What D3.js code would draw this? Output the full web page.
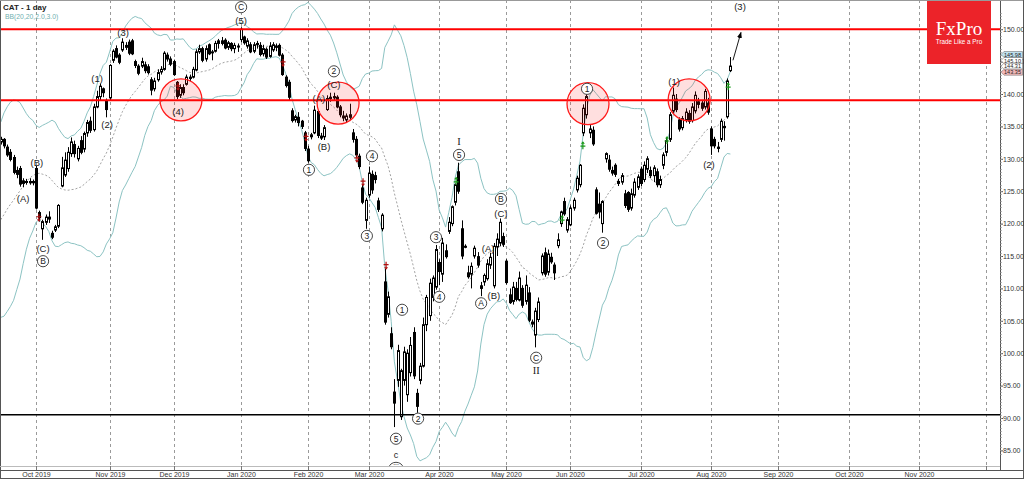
<!DOCTYPE html>
<html><head><meta charset="utf-8">
<script src="https://cdn.jsdelivr.net/npm/d3@7"></script>
<style>body{margin:0;background:#fff;overflow:hidden}svg{display:block}</style>
</head><body>
<svg id="c" width="1024" height="479"></svg>
<script>
// ---------- DATA ----------
// closes before the first visible bar (needed for BB(20))
const preClose = [116,114,115,115,112,113,111,113,116,119,117,119,123,124,126,129,131,133,133];
const open = [132.6,133.0,131.8,131.0,130.2,128.2,128.5,126.2,126.4,126.5,126.3,128.5,121.7,119.2,120.2,121.0,118.5,119.0,119.6,125.8,
127.5,128.5,130.8,132.2,130.0,132.8,131.5,134.0,135.8,134.5,138.0,139.6,140.8,139.0,139.4,145.2,147.0,146.0,146.8,147.2,
148.0,148.2,145.0,144.3,144.3,144.5,144.2,142.2,140.8,142.2,143.4,143.8,146.0,145.4,145.0,141.8,139.8,141.0,141.5,142.6,
142.6,143.7,146.5,147.0,145.4,147.6,146.4,146.6,147.8,148.2,148.3,147.2,147.8,147.0,147.4,148.4,148.8,147.4,147.6,146.6,
147.6,147.5,146.2,146.9,145.8,146.8,147.4,147.5,146.0,142.6,141.8,137.4,136.0,136.4,135.8,134.0,131.5,133.4,134.0,137.3,
133.5,133.4,137.6,139.3,139.6,139.5,138.0,136.6,136.0,136.4,134.0,133.0,130.4,125.5,120.5,124.4,127.6,127.4,123.5,119.2,
111.0,106.0,103.0,94.0,95.8,90.2,95.8,93.6,97.0,103.2,93.8,95.8,98.0,104.4,105.8,108.6,110.2,114.0,112.2,115.8,
118.8,120.0,123.3,128.0,119.2,116.5,112.4,112.2,115.0,114.9,110.4,111.0,111.5,113.6,110.4,116.4,117.0,118.0,114.2,109.0,
108.0,110.0,108.2,110.0,108.0,109.3,104.8,102.8,105.2,112.4,115.5,112.5,114.8,113.6,116.6,120.0,123.4,119.0,119.8,122.4,
125.2,126.0,134.0,136.8,134.0,134.4,125.2,123.0,120.0,130.0,129.8,128.2,129.0,126.5,126.4,124.6,124.8,122.4,124.4,125.6,
128.4,126.8,128.4,128.2,127.4,128.0,126.0,129.0,131.0,133.0,137.4,139.2,136.0,134.8,136.0,137.0,135.9,137.4,138.8,138.6,
138.0,138.6,134.6,133.0,131.8,133.0,135.0,136.5,143.6];
const high = [133.4,133.2,132.2,131.5,130.6,128.8,128.9,127.0,126.9,127.0,126.8,128.9,122.0,120.6,121.4,121.9,118.9,119.8,123.0,130.3,
131.0,131.8,133.3,132.8,132.0,133.5,134.2,136.0,136.5,138.5,140.5,141.6,141.0,139.3,144.6,146.9,147.5,146.3,148.6,148.0,
148.4,148.5,145.3,144.6,145.6,145.0,144.6,142.6,142.5,143.8,144.3,146.6,146.4,145.8,145.3,142.0,141.5,141.5,143.0,143.0,
144.2,146.9,147.6,147.3,147.5,147.8,146.8,148.2,148.5,148.8,148.6,148.2,148.0,147.9,147.8,150.3,149.0,148.6,148.0,148.0,
148.2,148.0,147.6,147.2,148.0,148.0,147.8,147.8,146.3,142.9,142.2,137.8,136.8,137.2,136.0,134.3,132.0,134.0,138.2,137.5,
134.0,135.2,139.8,140.2,140.2,139.8,138.3,137.4,137.0,138.5,134.6,133.5,130.8,126.0,124.0,128.8,128.2,128.0,124.0,121.6,
113.0,109.5,104.0,96.0,101.3,97.6,101.0,100.6,102.5,104.0,94.5,98.5,105.5,109.0,111.5,112.0,116.7,114.5,117.8,116.8,
121.0,122.8,126.2,129.4,120.5,116.8,113.5,114.0,116.6,115.6,111.0,112.3,114.5,115.5,117.0,118.5,120.8,118.6,114.5,110.0,
111.0,111.0,112.6,110.5,112.0,110.2,105.2,107.0,108.6,115.4,116.3,116.0,115.5,114.0,118.5,122.0,124.0,121.0,122.8,124.0,
127.4,129.2,138.4,140.2,135.2,135.0,125.6,124.8,123.6,131.0,130.6,128.8,129.3,126.9,127.8,125.2,125.0,125.4,127.0,127.6,
128.8,129.6,130.4,128.8,129.0,128.5,127.4,131.0,133.2,137.2,141.0,140.0,136.4,136.6,137.8,137.5,138.6,140.4,139.4,139.0,
140.8,139.4,135.0,133.4,132.6,136.2,135.8,142.4,145.7];
const low = [132.2,131.6,130.3,129.6,127.6,127.0,125.7,125.6,126.0,126.0,125.9,122.2,120.3,117.5,119.8,120.1,117.6,118.7,119.3,125.6,
127.2,128.0,130.3,130.2,129.6,130.7,131.0,133.4,134.0,134.2,137.8,139.0,139.5,136.4,139.0,144.8,145.5,144.6,146.5,146.8,
146.0,146.0,144.0,142.9,144.0,143.2,143.0,139.8,140.4,141.9,143.0,143.6,145.0,144.3,142.8,139.2,139.4,139.8,141.3,142.0,
142.4,143.5,146.2,144.9,145.0,146.0,145.2,146.4,147.0,147.5,146.9,146.8,146.6,146.3,146.5,148.0,147.6,147.0,146.3,146.3,
147.0,145.8,145.8,145.4,145.6,146.5,146.6,145.8,142.8,141.0,139.0,135.6,135.6,135.0,134.6,131.2,129.4,133.0,133.8,133.2,
132.9,132.9,137.4,138.8,139.0,137.8,136.4,135.8,135.6,136.0,132.5,130.2,128.4,123.0,119.2,124.0,124.6,126.2,121.8,118.8,
104.4,105.5,100.6,88.6,94.8,89.7,95.0,92.5,96.4,96.0,90.8,95.2,97.8,103.4,105.0,108.0,109.8,110.5,111.0,114.6,
118.4,119.6,122.8,124.6,114.5,116.2,111.5,110.0,114.6,113.2,108.8,110.4,111.2,113.0,110.0,115.0,116.5,116.4,110.6,107.6,
107.5,108.0,108.0,107.0,107.5,104.8,104.0,100.9,104.8,112.0,111.8,112.0,113.8,111.3,116.2,119.5,121.2,118.6,119.6,122.0,
124.8,125.6,133.5,136.2,133.2,132.0,121.4,120.8,118.6,129.4,128.0,127.4,127.2,125.8,126.0,122.4,121.8,122.0,124.0,125.2,
125.8,126.4,127.8,127.0,126.4,125.6,125.5,128.4,130.4,132.6,137.0,137.2,134.2,134.4,135.6,135.4,135.6,137.0,137.8,137.4,
137.6,136.8,130.6,131.6,131.0,132.6,132.8,136.2,143.4];
const close = [133.0,132.0,130.6,129.9,127.9,127.6,126.1,126.6,126.5,126.3,126.5,122.4,120.9,120.3,121.0,120.7,117.9,119.5,122.8,128.6,
129.8,131.0,132.6,130.8,131.6,131.0,133.9,135.6,134.4,138.0,139.6,141.2,140.2,137.6,144.4,146.6,145.7,144.9,148.0,147.5,
146.3,146.2,144.4,143.2,145.0,143.6,143.3,140.6,142.0,143.3,143.8,146.3,145.4,144.6,143.0,139.6,141.0,140.2,142.6,142.4,
143.8,146.5,147.0,145.2,147.0,146.2,146.5,147.8,148.2,147.8,147.1,147.9,147.0,147.5,147.3,150.0,147.9,148.2,146.5,147.6,
147.8,146.1,147.0,145.7,147.4,147.6,147.2,146.0,143.0,141.3,139.5,135.9,136.5,135.6,135.0,131.6,129.7,133.7,137.5,133.6,
133.2,134.8,139.3,139.5,139.4,138.0,136.8,136.3,136.6,136.8,133.0,130.6,128.8,123.3,123.6,127.8,125.2,126.8,122.2,121.3,
104.8,108.7,101.0,92.3,100.4,97.3,100.2,100.0,101.2,96.5,91.8,98.0,104.4,108.6,110.8,111.6,116.0,112.6,117.0,114.9,
120.2,122.6,126.0,125.0,115.0,116.4,111.8,113.4,116.2,113.6,110.0,112.0,113.8,114.8,116.5,117.6,120.2,116.8,110.9,107.8,
110.2,108.3,111.6,107.4,110.5,105.1,104.5,106.5,107.9,115.0,112.2,115.3,114.1,112.4,117.5,121.8,121.5,120.6,122.4,123.6,
127.0,129.0,137.8,139.6,134.6,132.3,121.6,121.8,123.4,130.8,128.4,127.8,127.6,126.2,127.4,122.8,122.2,124.6,126.4,127.2,
126.2,129.0,130.0,127.4,128.6,126.0,126.8,130.6,132.8,136.8,139.8,137.6,134.6,136.2,137.2,135.8,138.0,139.8,138.4,137.8,
140.4,137.2,132.0,132.0,131.6,135.8,134.8,142.0,144.31];

// x-axis: bar index of each month start, and labels
const gridIdx = [11,34,54,75,96,115,137,158,178,200,222,243,265,287,308];
const monthLbl = ["Oct 2019","Nov 2019","Dec 2019","Jan 2020","Feb 2020","Mar 2020","Apr 2020","May 2020","Jun 2020","Jul 2020","Aug 2020","Sep 2020","Oct 2020","Nov 2020"];
// y-axis
const priceTicks = [85,90,95,100,105,110,115,120,125,130,135,140,145,150];
const redLevels = [150, 139.05];
const blackLevels = [90.5];

// wave labels
const waveText  = ["(B)","(A)","(C)","B","(1)","(2)","(3)","(4)","(5)","C","2","(C)","(A)","(B)","1","4","I","5","3","1","2","5","c","iii","3","4","A","(B)","(A)","B","(C)","C","II","2","1","(1)","(2)","(3)"];
const waveIdx   = [11.3,7.0,13.2,13.2,30.1,33.2,38.2,55.4,75.1,75.1,104.1,104.1,99.4,101.0,96.3,116.0,143.2,143.2,114.4,125.4,130.4,123.5,123.5,123.5,136.0,137.0,150.1,154.1,152.3,156.3,156.3,167.3,167.3,188.2,183.2,210.4,221.3,231.0];
const wavePrice = [129.4,123.8,116.2,114.2,142.3,135.2,149.4,137.2,151.3,153.4,143.5,141.4,139.2,131.8,128.3,130.4,132.6,130.6,118.1,106.7,89.9,86.8,84.3,82.3,117.9,108.7,107.7,108.8,116.1,123.8,121.6,99.3,97.3,117.0,140.8,141.9,129.1,153.4];
const waveKind  = ["p","p","p","c","p","p","p","p","p","c","c","p","p","p","c","c","r","c","c","c","c","c","s","o","c","c","c","p","p","c","p","c","r","c","c","p","p","p"];

// highlighted zones (circles)
const zoneIdx = [56.3,105.4,183.5,215.1];
const zonePrice = [139.1,138.6,138.5,139.1];

// signal arrows
const sigIdx   = [11.9,55.4,88.2,95.4,111.3,113.2,120.4,142.3,175.4,181.9,208.2,227.3];
const sigPrice = [120.9,141.1,144.8,133.3,130.0,126.4,113.5,126.6,120.7,132.1,132.9,141.2];
const sigDir   = ["d","d","d","d","d","d","d","u","u","u","u","u"];

// projection arrow
const projIdx = [228.8,231.3];
const projPrice = [145.2,149.5];

// price tags on the right
const tagPrice = [145.1,145.98,144.31,143.35];
const tagFill = ["#ffffff","#bfe0ee","#ffffff","#f4b9b9"];

// ---------- DRAW ----------
const svg = d3.select("#c");
const plotR = 1000, plotB = 466;
const x = d3.scaleLinear().domain([0,1]).range([0.8,4.0]);
const y = d3.scaleLinear().domain([85,150]).range([450.4,29.2]);
const px = i => Math.round(x(i));
const SANS = "Liberation Sans, Arial, sans-serif";

const defs = svg.append("defs");
defs.append("clipPath").attr("id","plot").append("rect").attr("x",0).attr("y",0).attr("width",plotR).attr("height",plotB);
defs.append("marker").attr("id","ah").attr("viewBox","0 0 10 10").attr("refX",9).attr("refY",5)
  .attr("markerWidth",7).attr("markerHeight",7).attr("orient","auto")
  .append("path").attr("d","M0,1 L10,5 L0,9 Z").attr("fill","#000");

const g = svg.append("g").attr("clip-path","url(#plot)");

// vertical grid
g.selectAll("line.grid").data(gridIdx).join("line")
  .attr("x1",d=>px(d)+0.5).attr("x2",d=>px(d)+0.5).attr("y1",0).attr("y2",plotB)
  .attr("stroke","#9a9a9a").attr("stroke-width",1).attr("stroke-dasharray","3,3");

// Bollinger bands computed from closes
const allClose = preClose.concat(close);
const bbUp=[], bbMid=[], bbLo=[];
close.forEach((c,i)=>{
  const w = allClose.slice(i, i+20);
  const m = d3.mean(w);
  const sd = Math.sqrt(d3.mean(w, v=>(v-m)*(v-m)));
  bbMid.push(m); bbUp.push(m+2*sd); bbLo.push(m-2*sd);
});
const ln = d3.line().x((d,i)=>x(i)).y(d=>y(d));
g.append("path").attr("d",ln(bbUp)).attr("fill","none").attr("stroke","#8cc3c3").attr("stroke-width",1);
g.append("path").attr("d",ln(bbLo)).attr("fill","none").attr("stroke","#8cc3c3").attr("stroke-width",1);
g.append("path").attr("d",ln(bbMid)).attr("fill","none").attr("stroke","#8a8a8a").attr("stroke-width",0.8).attr("stroke-dasharray","2,2");

// candles
const cg = g.append("g");
close.forEach((c,i)=>{
  const o=open[i], h=high[i], l=low[i];
  const cx = px(i);
  cg.append("line").attr("x1",cx+0.5).attr("x2",cx+0.5).attr("y1",y(h)).attr("y2",y(l))
    .attr("stroke","#000").attr("stroke-width",1);
  const top = y(Math.max(o,c)), bot = y(Math.min(o,c));
  const bull = c>=o;
  cg.append("rect").attr("x",cx-0.5).attr("y",top).attr("width",2).attr("height",Math.max(1,bot-top))
    .attr("fill",bull?"#fff":"#000").attr("stroke","#000").attr("stroke-width",1);
});

// level lines
g.selectAll("line.red").data(redLevels).join("line")
  .attr("x1",0).attr("x2",plotR).attr("y1",d=>y(d)).attr("y2",d=>y(d))
  .attr("stroke","#ff0000").attr("stroke-width",2);
g.selectAll("line.blk").data(blackLevels).join("line")
  .attr("x1",0).attr("x2",plotR).attr("y1",d=>y(d)).attr("y2",d=>y(d))
  .attr("stroke","#000").attr("stroke-width",1.6);

// zones
g.selectAll("circle.zone").data(zoneIdx).join("circle")
  .attr("cx",d=>x(d)).attr("cy",(d,i)=>y(zonePrice[i])).attr("r",21)
  .attr("fill","rgba(255,40,40,0.15)").attr("stroke","#ff1a1a").attr("stroke-width",1.3);

// signal arrows
sigIdx.forEach((d,i)=>{
  const sx = x(d), sy = y(sigPrice[i]);
  const col = sigDir[i]==="d" ? "#b01010" : "#1a9a1a";
  const s = sigDir[i]==="d" ? 1 : -1;
  g.append("path").attr("d",`M${sx},${sy-4*s} L${sx},${sy+3*s} M${sx-2.5},${sy-1*s} L${sx+2.5},${sy-1*s}`)
    .attr("stroke",col).attr("stroke-width",1.2).attr("fill","none");
  g.append("path").attr("d",`M${sx-2},${sy+1.5*s} L${sx+2},${sy+1.5*s} L${sx},${sy+4*s} Z`).attr("fill",col);
});

// wave labels
waveText.forEach((t,i)=>{
  const lx = x(waveIdx[i]), ly = y(wavePrice[i]);
  const k = waveKind[i];
  if(k==="c"||k==="o"){
    g.append("ellipse").attr("cx",lx).attr("cy",ly).attr("rx",k==="o"?7:5.6).attr("ry",5.6)
      .attr("fill","#fff").attr("stroke","#333").attr("stroke-width",0.9);
    g.append("text").attr("x",lx).attr("y",ly+3).attr("text-anchor","middle")
      .attr("font-family",SANS).attr("font-size",8.5).attr("fill","#222").text(t);
  } else if(k==="r"){
    g.append("text").attr("x",lx).attr("y",ly+3.5).attr("text-anchor","middle")
      .attr("font-family","Liberation Serif, Times New Roman, serif").attr("font-size",10.5).attr("fill","#222").text(t);
  } else {
    g.append("text").attr("x",lx).attr("y",ly+3.3).attr("text-anchor","middle")
      .attr("font-family",SANS).attr("font-size",k==="s"?9:9.5).attr("fill","#222").text(t);
  }
});

// projection arrow
g.append("line").attr("x1",x(projIdx[0])).attr("y1",y(projPrice[0])).attr("x2",x(projIdx[1])).attr("y2",y(projPrice[1]))
  .attr("stroke","#000").attr("stroke-width",0.9).attr("marker-end","url(#ah)");

// title
svg.append("text").attr("x",3).attr("y",9.5).attr("font-family",SANS)
  .attr("font-size",8).attr("font-weight","bold").attr("fill","#222").text("CAT   - 1 day");
svg.append("text").attr("x",5).attr("y",18.5).attr("font-family",SANS)
  .attr("font-size",6.8).attr("fill","#6fb0b0").text("BB(20,20,2.0,3.0)");

// FxPro logo
svg.append("rect").attr("x",927).attr("y",0).attr("width",64).attr("height",64).attr("fill","#ec2329");
svg.append("text").attr("x",959).attr("y",35).attr("text-anchor","middle").attr("font-family","Liberation Serif, Times New Roman, serif")
  .attr("font-size",19).attr("fill","#fff").text("FxPro");
svg.append("text").attr("x",959).attr("y",43.5).attr("text-anchor","middle").attr("font-family",SANS)
  .attr("font-size",6.3).attr("fill","#fff").text("Trade Like a Pro");

// frame / axes
svg.append("line").attr("x1",0.5).attr("x2",0.5).attr("y1",0).attr("y2",479).attr("stroke","#555");
svg.append("line").attr("x1",plotR+0.5).attr("x2",plotR+0.5).attr("y1",0).attr("y2",plotB+4).attr("stroke","#555");
svg.append("line").attr("x1",0).attr("x2",plotR).attr("y1",plotB+0.5).attr("y2",plotB+0.5).attr("stroke","#bbb");
svg.append("line").attr("x1",0).attr("x2",1024).attr("y1",plotB+4.5).attr("y2",plotB+4.5).attr("stroke","#555");
svg.append("line").attr("x1",0).attr("x2",1024).attr("y1",478.5).attr("y2",478.5).attr("stroke","#555");
svg.append("line").attr("x1",0).attr("x2",1024).attr("y1",0.5).attr("y2",0.5).attr("stroke","#999");
svg.append("line").attr("x1",1023.5).attr("x2",1023.5).attr("y1",0).attr("y2",479).attr("stroke","#555");

// y axis ticks
const yAxis = d3.axisRight(y).tickValues(priceTicks).tickFormat(d3.format(".2f")).tickSize(3);
const ya = svg.append("g").attr("transform",`translate(${plotR},0)`).call(yAxis);
ya.select(".domain").remove();
ya.selectAll("text").attr("font-family",SANS).attr("font-size",7).attr("fill","#333").attr("x",3);
ya.selectAll("line").attr("stroke","#555");
const minor = d3.range(84.5,153,0.5);
svg.append("g").selectAll("line").data(minor).join("line")
  .attr("x1",plotR).attr("x2",plotR+2).attr("y1",d=>Math.round(y(d))+0.5).attr("y2",d=>Math.round(y(d))+0.5)
  .attr("stroke","#999").attr("stroke-width",0.7);

// x axis labels
svg.append("g").selectAll("text").data(monthLbl).join("text")
  .attr("x",(d,i)=>px(gridIdx[i])+0.5).attr("y",476.5).attr("text-anchor","middle")
  .attr("font-family",SANS).attr("font-size",7).attr("fill","#333").text(d=>d);
svg.append("g").selectAll("line").data(gridIdx).join("line")
  .attr("x1",d=>px(d)+0.5).attr("x2",d=>px(d)+0.5).attr("y1",plotB).attr("y2",plotB+4).attr("stroke","#777");

// price tags (stacked like the terminal does)
const tagY = [60.5,54.5,66.2,72.2];
tagPrice.forEach((p,i)=>{
  const ty = tagY[i];
  svg.append("path").attr("d",`M${plotR+1},${ty} L${plotR+4},${ty-3} L1022.5,${ty-3} L1022.5,${ty+3} L${plotR+4},${ty+3} Z`)
    .attr("fill",tagFill[i]).attr("stroke","#777").attr("stroke-width",0.6);
  svg.append("text").attr("x",1004).attr("y",ty+2.2).attr("font-family",SANS)
    .attr("font-size",6).attr("textLength",17).attr("lengthAdjust","spacingAndGlyphs")
    .attr("fill","#222").text(p.toFixed(2));
});
</script>
</body></html>
